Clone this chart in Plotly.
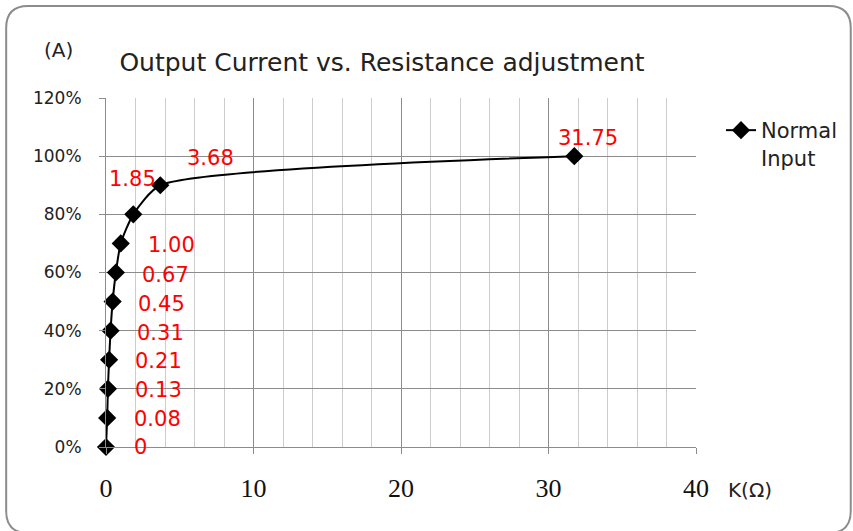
import plotly.graph_objects as go

# ---- data ----
resistance_k = [0, 0.08, 0.13, 0.21, 0.31, 0.45, 0.67, 1.00, 1.85, 3.68, 31.75]
output_pct = [0.0, 0.1, 0.2, 0.3, 0.4, 0.5, 0.6, 0.7, 0.8, 0.9, 1.0]
point_labels = ["0", "0.08", "0.13", "0.21", "0.31", "0.45", "0.67", "1.00", "1.85", "3.68", "31.75"]
series_name = "Normal<br>Input"
title_text = "Output Current vs. Resistance adjustment"
y_unit = "(A)"
x_unit = "K(Ω)"

# label offsets (pixels) relative to each point
label_dx = [26, 25, 25, 24, 24, 23, 24, 25, -26, 25, -18]
label_dy = [0, -1, -1, -1, -2, -2, -2, -2, 35, 27, 18]

W, H = 853, 531
L, R, T, B = 106, 156, 98, 84
PW, PH = W - L - R, H - T - B

SANS = "'DejaVu Sans', sans-serif"
SERIF = "'Liberation Serif', 'DejaVu Serif', serif"


def pp(px, py):
    return (px - L) / PW, (H - B - py) / PH


fig = go.Figure()
fig.add_trace(go.Scatter(
    x=resistance_k, y=output_pct, name=series_name,
    mode="lines+markers", cliponaxis=False,
    line=dict(color="black", width=2, shape="spline", smoothing=0.6),
    marker=dict(symbol="diamond", size=14, color="black"),
))

for xv, yv, t, dx, dy in zip(resistance_k, output_pct, point_labels, label_dx, label_dy):
    fig.add_annotation(x=xv, y=yv, xref="x", yref="y", text=t, showarrow=False,
                       xanchor="left", yanchor="middle", xshift=dx, yshift=dy,
                       font=dict(family=SANS, size=21, color="#ff0000"))

# axis unit labels
ax_, ay_ = pp(58, 50)
fig.add_annotation(x=ax_, y=ay_, xref="paper", yref="paper", text=y_unit, showarrow=False,
                   xanchor="center", yanchor="middle", font=dict(family=SANS, size=20, color="#222"))
kx, ky = pp(727, 490)
fig.add_annotation(x=kx, y=ky, xref="paper", yref="paper", text=x_unit, showarrow=False,
                   xanchor="left", yanchor="middle", font=dict(family=SANS, size=20, color="#222"))

# outer rounded border
x0, y0, x1, y1, r = 6, 6, 852, 533, 22
def P(px, py):
    a, b = pp(px, py)
    return f"{a:.5f},{b:.5f}"
path = (f"M {P(x0 + r, y0)} L {P(x1 - r, y0)} Q {P(x1, y0)} {P(x1, y0 + r)} "
        f"L {P(x1, y1 - r)} Q {P(x1, y1)} {P(x1 - r, y1)} "
        f"L {P(x0 + r, y1)} Q {P(x0, y1)} {P(x0, y1 - r)} "
        f"L {P(x0, y0 + r)} Q {P(x0, y0)} {P(x0 + r, y0)} Z")
fig.add_shape(type="path", path=path, xref="paper", yref="paper",
              line=dict(color="#8c8c8c", width=2), layer="below")

lx, ly = pp(721, 110)
fig.update_layout(
    width=W, height=H,
    margin=dict(l=L, r=R, t=T, b=B),
    paper_bgcolor="white", plot_bgcolor="white",
    title=dict(text=title_text, x=382 / W, xanchor="center", xref="container",
               y=1 - 62 / H, yanchor="middle", yref="container",
               font=dict(family=SANS, size=25, color="#222")),
    showlegend=True,
    legend=dict(x=lx, y=ly, xanchor="left", yanchor="top", valign="top",
                font=dict(family=SANS, size=21, color="#222"),
                bgcolor="rgba(0,0,0,0)", tracegroupgap=0),
    xaxis=dict(range=[0, 40], dtick=10, tick0=0,
               showgrid=True, gridcolor="#8c8c8c", gridwidth=1,
               minor=dict(dtick=2, showgrid=True, gridcolor="#cccccc", gridwidth=1),
               ticks="outside", ticklen=6, tickcolor="#8c8c8c",
               showline=True, linecolor="#8c8c8c", mirror=False,
               zeroline=False, ticklabelstandoff=12,
               tickfont=dict(family=SERIF, size=26, color="#111")),
    yaxis=dict(range=[0, 1.2], dtick=0.2, tick0=0, tickformat=".0%",
               showgrid=True, gridcolor="#8c8c8c", gridwidth=1,
               ticks="outside", ticklen=6, tickcolor="#8c8c8c",
               showline=True, linecolor="#8c8c8c", zeroline=False,
               ticklabelstandoff=14,
               tickfont=dict(family=SANS, size=17, color="#222")),
)

fig.write_html("out.html", config={"displayModeBar": False},
               post_script="document.body.style.margin='0';")
